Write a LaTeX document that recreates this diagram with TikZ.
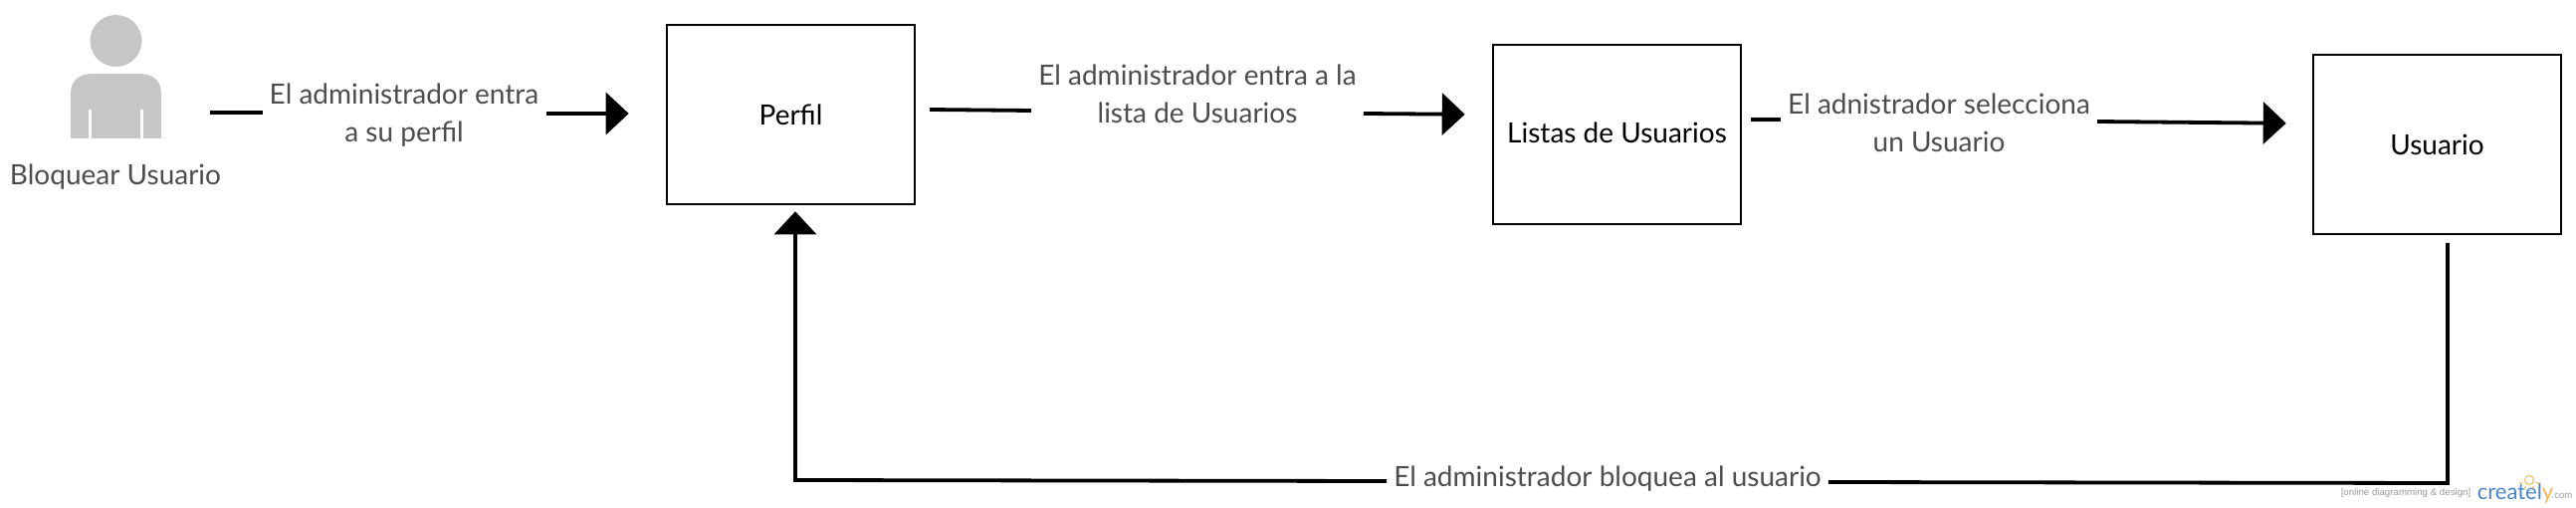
\documentclass[tikz,border=0pt]{standalone}
\usepackage{fontspec}
\setmainfont{Lato}
\newfontfamily\lemafont{Liberation Sans}
\usepackage{tikz}
\usetikzlibrary{arrows.meta}
\definecolor{gristexto}{HTML}{4D4D4D}
\definecolor{grisfigura}{HTML}{C5C6C8}
\definecolor{azulcreately}{HTML}{4A86C5}
\definecolor{naranjacreately}{HTML}{F5B55A}
\tikzset{
	caja/.style={draw, line width=2.6pt, minimum width=249pt, inner sep=0pt, font=\fontsize{28}{38}\selectfont},
	etiqueta/.style={text=gristexto, align=center, inner xsep=7pt, inner ysep=0pt, font=\fontsize{28}{38}\selectfont},
	tramo/.style={line width=3.8pt},
	flecha/.style={line width=3.8pt, -{Triangle[length=23pt,width=42pt]}}
}
\begin{document}
\begin{tikzpicture}[x=1pt,y=-1pt]
		\useasboundingbox (0,0) rectangle (2588,510);
		% actor
		\fill [grisfigura] (116.5,41) ellipse (26 and 26);
		\fill [grisfigura] (71,139) -- (71,94) .. controls (71,80) and (80,74) .. (94,74) -- (139,74) .. controls (153,74) and (162,80) .. (162,94) -- (162,139) -- cycle;
		\foreach \x in {90.5,142.5}
		\draw [white, line width=2.5pt] (\x,110) -- (\x,139);
		\node [etiqueta] (actor) at (116,178) {Bloquear Usuario};
		% cajas
		\node [caja, minimum height=180pt] (perfil) at (794.5,115) {Perfil};
		\node [caja, minimum height=180pt] (listas) at (1624.5,135) {\raisebox{3pt}{Listas de Usuarios}};
		\node [caja, minimum height=180pt] (usuario) at (2448.5,145) {Usuario};
		% etiquetas
		\node [etiqueta] (entra) at (406,116) {El administrador entra\\a su perfil};
		\node [etiqueta] (lista) at (1203,94.5) {El administrador entra a la\\lista de Usuarios};
		\node [etiqueta] (selecciona) at (1948,123) {El adnistrador selecciona\\un Usuario};
		\node [etiqueta] (bloquea) at (1615,481) {El administrador bloquea al usuario};
		% extremos libres
		\coordinate (salidaactor) at (211,113);
		\coordinate (salidaperfil) at (934,110);
		\coordinate (salidalistas) at (1759,120);
		\coordinate (salidausuario) at (2459,244);
		\coordinate (esquinader) at (2459,485);
		\coordinate (esquinaizq) at (799,482);
		% conexiones
		\draw [tramo] (salidaactor) -- (entra.west |- 0,113);
		\draw [flecha] (entra.east |- 0,114) -- (perfil.west |- 0,114) [shorten >=37pt];
		\draw [tramo] (salidaperfil) -- (lista.west |- 0,111);
		\draw [flecha] (lista.east |- 0,114) -- (listas.west |- 0,115) [shorten >=27pt];
		\draw [tramo] (salidalistas) -- (selecciona.west |- salidalistas);
		\draw [flecha] (selecciona.east |- 0,122) -- (usuario.west |- 0,124) [shorten >=26pt];
		\draw [tramo] (salidausuario) -- (esquinader) -- (bloquea.east |- 0,484);
		\draw [flecha] (bloquea.west |- 0,483) -- (esquinaizq) -- (perfil.south -| esquinaizq) [shorten >=6pt];
		% marca
		\node [text=gray!80, font=\fontsize{9.7}{11}\lemafont, inner sep=0pt] (lema) at (2417,495) {[online diagramming \& design]};
		\node [inner sep=0pt, font=\fontsize{22}{26}\selectfont, text=azulcreately] (marca) at (2527,495) {createl\textcolor{naranjacreately}{y}};
		\node [inner sep=0pt, font=\fontsize{9.5}{11}\lemafont, text=gray!80] (punto) at (2574,498) {.com};
		\draw [naranjacreately, line width=1pt] (2541,482) circle (4.5);
		\foreach \a in {200,240,270,300,340}
		\draw [naranjacreately, line width=1pt] (2541,482) ++(\a:-7) -- ++(\a:-3.5);
\end{tikzpicture}
\end{document}
